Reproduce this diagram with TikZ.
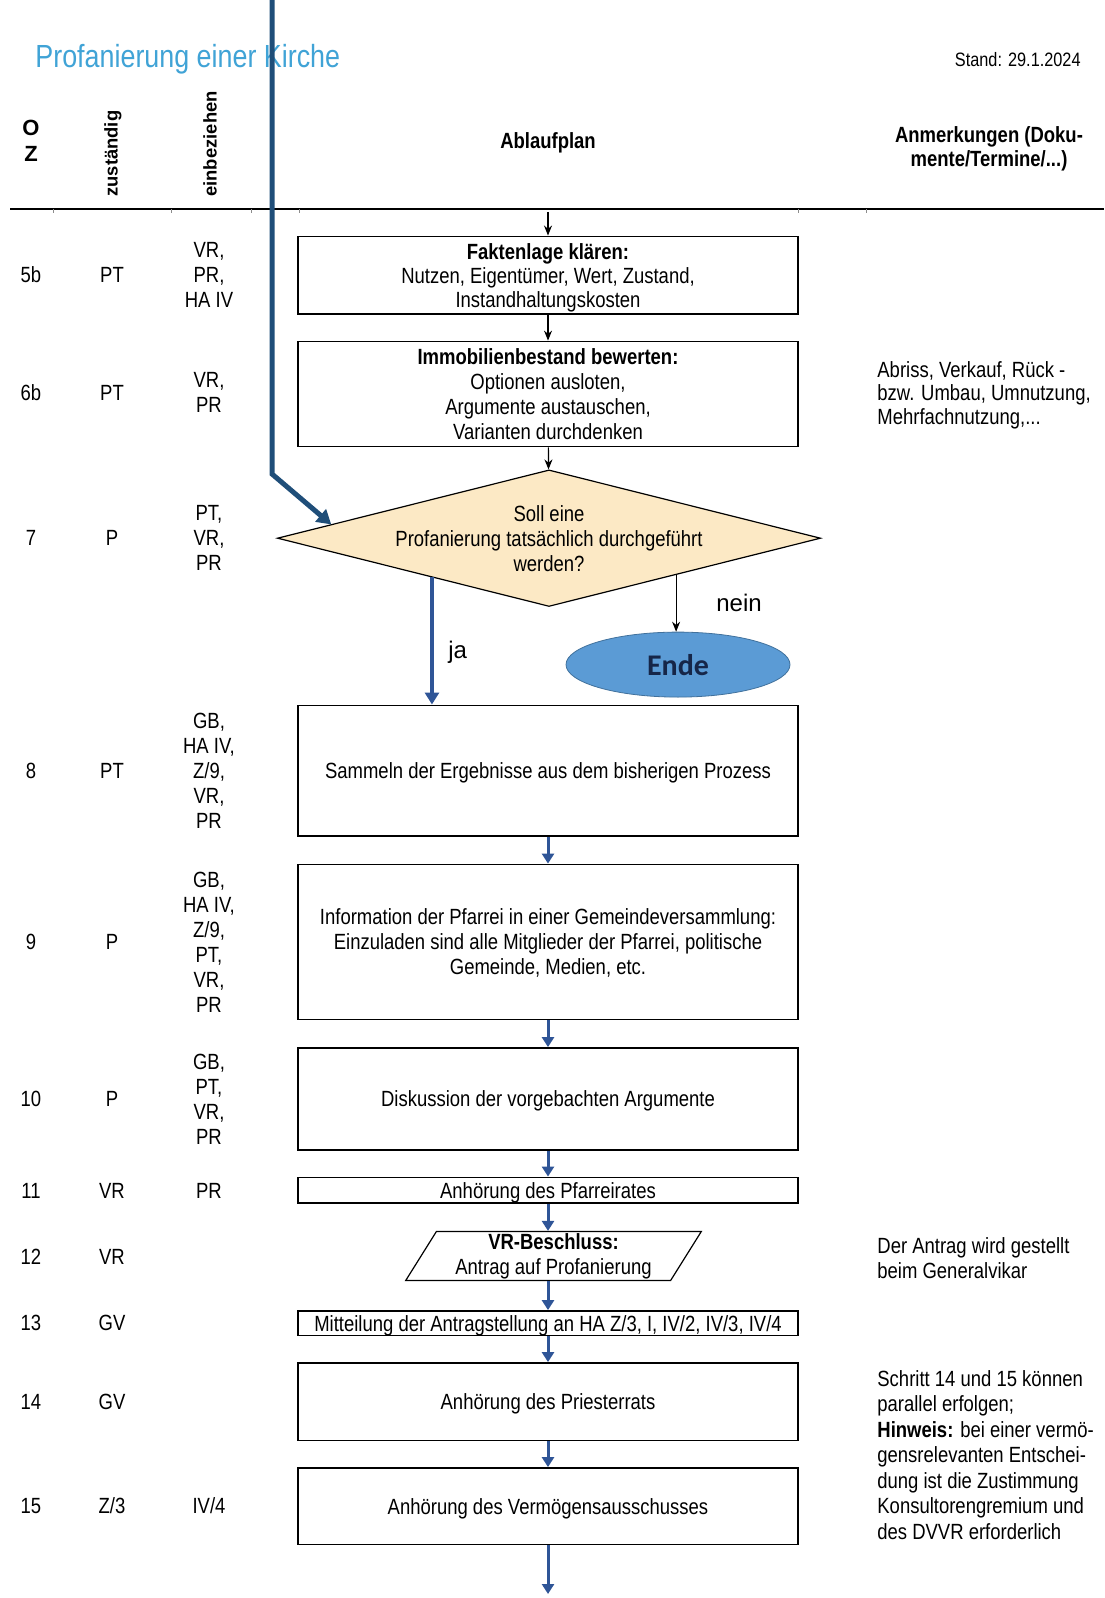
\documentclass[tikz,border=0pt]{standalone}
\usepackage{fontspec}
\setmainfont[FakeStretch=0.84]{Liberation Sans}
\newfontfamily\widefont{Liberation Sans}
\newfontfamily\endefont{Carlito}
\usetikzlibrary{shapes.geometric,arrows.meta,calc}

\definecolor{titleblue}{RGB}{64,163,214}
\definecolor{flowblue}{RGB}{47,85,151}
\definecolor{darkline}{RGB}{31,78,121}
\definecolor{decisionfill}{RGB}{252,233,197}
\definecolor{endfill}{RGB}{91,155,213}
\definecolor{endborder}{RGB}{65,113,156}
\definecolor{endtext}{RGB}{22,38,72}

\begin{document}
\begin{tikzpicture}
	[
		x=0.5pt, y=-0.5pt,
		every node/.style = {font=\fontsize{11}{12.5}\selectfont},
		txt/.style = {align=center, inner sep=0pt},
		note/.style = {align=left, anchor=west, inner sep=0pt},
		head/.style = {txt, font=\fontsize{11}{12}\selectfont\bfseries},
		vhead/.style = {inner sep=0pt, anchor=west, rotate=90, font=\widefont\fontsize{9.2}{11}\selectfont\bfseries},
		stepbox/.style = {shape=rectangle, draw, line width=0.9pt, minimum width=250pt, align=center, inner xsep=3pt, inner ysep=0pt, text depth=0pt},
		decision/.style = {shape=diamond, draw, line width=0.6pt, fill=decisionfill, minimum width=271.6pt, minimum height=68.3pt, inner sep=0pt},
		endnode/.style = {shape=ellipse, draw=endborder, fill=endfill, minimum width=112pt, minimum height=32.5pt, inner sep=0pt, text=endtext, font=\endefont\fontsize{15}{18}\selectfont\bfseries},
		paranode/.style = {shape=trapezium, draw, line width=0.6pt, trapezium left angle=56, trapezium right angle=124, trapezium stretches body, minimum width=147.8pt, minimum height=24.5pt, inner sep=0pt, align=center},
		tick/.style = {draw=black!45, line width=0.4pt},
		blackarr/.style = {line width=0.6pt, -{Stealth[length=5pt, width=4pt]}},
		bluearr/.style = {draw=flowblue, line width=1.5pt, -{Triangle[length=5pt, width=6pt]}},
		jaarr/.style = {draw=flowblue, line width=2pt, -{Triangle[length=6pt, width=7pt]}},
		thickarr/.style = {draw=darkline, line width=2.5pt, -{Triangle[length=7pt, width=8pt]}}
	]
	
	\useasboundingbox (0,0) rectangle (1104,1598);
	
	\def\bx{548}
	\def\ozx{31}
	\def\zux{112}
	\def\eix{209}
	\def\nx{877}
	
	\node [anchor=west, inner sep=0pt, text=titleblue, font=\fontsize{16}{18}\selectfont] (title) at (35,59) {Profanierung einer Kirche};
	\node [anchor=east, inner sep=0pt, font=\fontsize{9.7}{12}\selectfont] (stand) at (1081,60) {Stand: 29.1.2024};
	
	\node [txt, font=\widefont\fontsize{11}{13}\selectfont\bfseries] (hoz) at (\ozx,141) {O\\Z};
	\node [vhead] (hzust) at (113,197) {zuständig};
	\node [vhead] (heinb) at (210,197) {einbeziehen};
	\node [head] (hablauf) at (\bx,143) {Ablaufplan};
	\node [head] (hanm) at (989,149) {Anmerkungen (Doku-\\mente/Termine/...)};
	
	\draw [line width=0.8pt] (10,209) -- (1104,209);
	\draw [tick] (53,209) -- (53,213);
	\draw [tick] (171,209) -- (171,213);
	\draw [tick] (251,209) -- (251,213);
	\draw [tick] (299,209) -- (299,213);
	\draw [tick] (798,209) -- (798,213);
	\draw [tick] (866,209) -- (866,213);
	
	\node [stepbox, minimum height=38.75pt, font=\fontsize{11}{12}\selectfont] (b5b) at (\bx,275.2) {\textbf{Faktenlage klären:}\\Nutzen, Eigentümer, Wert, Zustand,\\Instandhaltungskosten};
	\node [stepbox, minimum height=52.5pt] (b6b) at (\bx,394) {\textbf{Immobilienbestand bewerten:}\\Optionen ausloten,\\Argumente austauschen,\\Varianten durchdenken};
	\node [decision, label={[txt]center:Soll eine\\Profanierung tatsächlich durchgeführt\\werden?}] (d7) at (549,538.2) {};
	\node [endnode] (ende) at (678,664.6) {Ende};
	\node [stepbox, minimum height=65.3pt] (b8) at (\bx,770.7) {Sammeln der Ergebnisse aus dem bisherigen Prozess};
	\node [stepbox, minimum height=77.5pt] (b9) at (\bx,942) {Information der Pfarrei in einer Gemeindeversammlung:\\Einzuladen sind alle Mitglieder der Pfarrei, politische\\Gemeinde, Medien, etc.};
	\node [stepbox, minimum height=51pt] (b10) at (\bx,1099) {Diskussion der vorgebachten Argumente};
	\node [stepbox, minimum height=12.75pt] (b11) at (\bx,1190.2) {Anhörung des Pfarreirates};
	\node [paranode] (p12) at (553.5,1256) {\textbf{VR-Beschluss:}\\Antrag auf Profanierung};
	\node [stepbox, minimum height=12.2pt] (b13) at (\bx,1323.2) {Mitteilung der Antragstellung an HA Z/3, I, IV/2, IV/3, IV/4};
	\node [stepbox, minimum height=38.7pt] (b14) at (\bx,1401.7) {Anhörung des Priesterrats};
	\node [stepbox, minimum height=38.2pt] (b15) at (\bx,1506.2) {Anhörung des Vermögensausschusses};
	
	\node [txt] (oz5b) at (\ozx,275) {5b};
	\node [txt] (oz6b) at (\ozx,392.5) {6b};
	\node [txt] (oz7) at (\ozx,538) {7};
	\node [txt] (oz8) at (\ozx,771) {8};
	\node [txt] (oz9) at (\ozx,942) {9};
	\node [txt] (oz10) at (\ozx,1099) {10};
	\node [txt] (oz11) at (\ozx,1190.5) {11};
	\node [txt] (oz12) at (\ozx,1257) {12};
	\node [txt] (oz13) at (\ozx,1323) {13};
	\node [txt] (oz14) at (\ozx,1402) {14};
	\node [txt] (oz15) at (\ozx,1506) {15};
	
	\node [txt] (zu5b) at (\zux,275) {PT};
	\node [txt] (zu6b) at (\zux,392.5) {PT};
	\node [txt] (zu7) at (\zux,538) {P};
	\node [txt] (zu8) at (\zux,771) {PT};
	\node [txt] (zu9) at (\zux,942) {P};
	\node [txt] (zu10) at (\zux,1099) {P};
	\node [txt] (zu11) at (\zux,1190.5) {VR};
	\node [txt] (zu12) at (\zux,1257) {VR};
	\node [txt] (zu13) at (\zux,1323) {GV};
	\node [txt] (zu14) at (\zux,1402) {GV};
	\node [txt] (zu15) at (\zux,1506) {Z/3};
	
	\node [txt] (ei5b) at (\eix,275) {VR,\\PR,\\HA IV};
	\node [txt] (ei6b) at (\eix,392.5) {VR,\\PR};
	\node [txt] (ei7) at (\eix,538) {PT,\\VR,\\PR};
	\node [txt] (ei8) at (\eix,770.7) {GB,\\HA IV,\\Z/9,\\VR,\\PR};
	\node [txt] (ei9) at (\eix,942) {GB,\\HA IV,\\Z/9,\\PT,\\VR,\\PR};
	\node [txt] (ei10) at (\eix,1099) {GB,\\PT,\\VR,\\PR};
	\node [txt] (ei11) at (\eix,1190.5) {PR};
	\node [txt] (ei15) at (\eix,1506) {IV/4};
	
	\node [note, text depth=0pt, font=\fontsize{11}{11.75}\selectfont] (n6b) at (\nx,392.7) {Abriss, Verkauf, Rück -\\bzw. Umbau, Umnutzung,\\Mehrfachnutzung,...};
	\node [note] (n12) at (\nx,1258) {Der Antrag wird gestellt\\beim Generalvikar};
	\node [note, font=\fontsize{11}{12.75}\selectfont] (n14) at (\nx,1455) {Schritt 14 und 15 können\\parallel erfolgen;\\\textbf{Hinweis:} bei einer vermö-\\gensrelevanten Entschei-\\dung ist die Zustimmung\\Konsultorengremium und\\des DVVR erforderlich};
	
	\coordinate (top) at (\bx,212);
	\coordinate (src) at (272,0);
	\coordinate (bend) at (272,474);
	\coordinate (jastart) at ($(d7.west)!0.57!(d7.south)$);
	\coordinate (neinstart) at ($(d7.south)!0.467!(d7.east)$);
	\coordinate (out) at (\bx,1594);
	
	\draw [blackarr] (top) -- (b5b);
	\draw [blackarr] (b5b) -- (b6b);
	\draw [blackarr] (b6b) -- (d7);
	\draw [thickarr] (src) -- (bend) -- ($(d7.west)!0.2!(d7.north)$);
	\draw [jaarr] (jastart) -- (jastart |- b8.north);
	\draw [blackarr] (neinstart) -- (neinstart |- ende.north);
	\node [anchor=west, inner sep=0pt, font=\widefont\fontsize{12}{14}\selectfont] (ja) at (448,652) {ja};
	\node [inner sep=0pt, font=\widefont\fontsize{12}{14}\selectfont] (nein) at (739,603) {nein};
	
	\draw [bluearr] (b8) -- (b9);
	\draw [bluearr] (b9) -- (b10);
	\draw [bluearr] (b10) -- (b11);
	\draw [bluearr] (b11.south) -- (b11.south |- p12.north);
	\draw [bluearr] (b11.south |- p12.south) -- (b13);
	\draw [bluearr] (b13) -- (b14);
	\draw [bluearr] (b14) -- (b15);
	\draw [bluearr] (b15) -- (out);
	
\end{tikzpicture}
\end{document}
